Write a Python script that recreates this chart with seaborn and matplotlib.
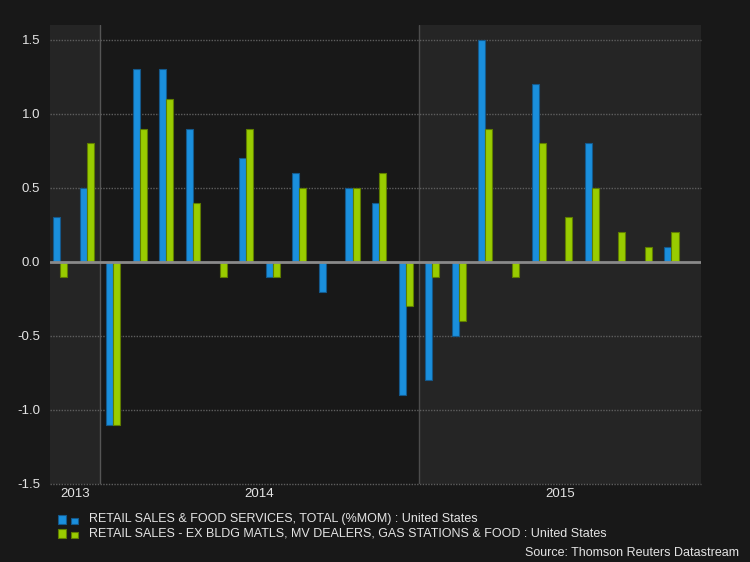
import matplotlib
matplotlib.use("Agg")
import matplotlib.pyplot as plt
import seaborn as sns
import pandas as pd
from matplotlib.patches import Rectangle

# ---------------- data ----------------
months = ["Nov 2013", "Dec 2013",
          "Jan 2014", "Feb 2014", "Mar 2014", "Apr 2014", "May 2014", "Jun 2014",
          "Jul 2014", "Aug 2014", "Sep 2014", "Oct 2014", "Nov 2014", "Dec 2014",
          "Jan 2015", "Feb 2015", "Mar 2015", "Apr 2015", "May 2015", "Jun 2015",
          "Jul 2015", "Aug 2015", "Sep 2015", "Oct 2015"]
retail_total = [0.3, 0.5,
                -1.1, 1.3, 1.3, 0.9, 0.0, 0.7, -0.1, 0.6, -0.2, 0.5, 0.4, -0.9,
                -0.8, -0.5, 1.5, 0.0, 1.2, 0.0, 0.8, 0.0, 0.0, 0.1]
retail_ex = [-0.1, 0.8,
             -1.1, 0.9, 1.1, 0.4, -0.1, 0.9, -0.1, 0.5, 0.0, 0.5, 0.6, -0.3,
             -0.1, -0.4, 0.9, -0.1, 0.8, 0.3, 0.5, 0.2, 0.1, 0.2]
series_names = ["RETAIL SALES & FOOD SERVICES, TOTAL (%MOM) : United States",
                "RETAIL SALES - EX BLDG MATLS, MV DEALERS, GAS STATIONS & FOOD : United States"]
year_labels = ["2013", "2014", "2015"]
ytick_values = [-1.5, -1.0, -0.5, 0.0, 0.5, 1.0, 1.5]
ytick_labels = ["-1.5", "-1.0", "-0.5", "0.0", "0.5", "1.0", "1.5"]
source_text = "Source: Thomson Reuters Datastream"

# ---------------- style ----------------
BG = "#181818"
SHADE = "#252525"
BLUE = "#1a8fdd"
GREEN = "#99cc00"
BLUE_EDGE = "#14598c"
GREEN_EDGE = "#5f7d00"
TXT = "#e4e4e4"
FONT = "Liberation Sans"

sns.set_theme(style="dark")
plt.rcParams["font.family"] = [FONT, "DejaVu Sans"]
plt.rcParams["axes.unicode_minus"] = False

W, H = 750, 562
fig = plt.figure(figsize=(W / 100, H / 100), dpi=100, facecolor=BG)
ax = fig.add_axes([50 / W, 1 - 484 / H, 651 / W, 459 / H])
ax.set_facecolor(BG)

df = pd.DataFrame({
    "month": months * 2,
    "value": retail_total + retail_ex,
    "series": [series_names[0]] * len(months) + [series_names[1]] * len(months),
})

sns.barplot(data=df, x="month", y="value", hue="series", order=months,
            hue_order=series_names, palette=[BLUE, GREEN], width=0.53,
            saturation=1, errorbar=None, legend=False, ax=ax, zorder=3)
for cont, ec in zip(ax.containers, [BLUE_EDGE, GREEN_EDGE]):
    for p in cont:
        p.set_edgecolor(ec)
        p.set_linewidth(0.8)

x0, x1 = -0.38, 24.11
y2014, y2015 = 1.5, 13.5
ax.set_xlim(x0, x1)
ax.set_ylim(-1.5, 1.6)

# year shading
ax.axvspan(x0, y2014, color=SHADE, zorder=0, lw=0)
ax.axvspan(y2015, x1, color=SHADE, zorder=0, lw=0)
ax.axvline(y2014, color="#555555", lw=1, zorder=1)
ax.axvline(y2015, color="#4c4c4c", lw=1, zorder=1)

# grid
for v in ytick_values:
    if v != 0:
        ax.axhline(v, color="#5e5e5e", lw=1, ls=(0, (1, 1)), zorder=1,
                   clip_on=False)
ax.axhline(0, color="#8a8a8a", lw=2, zorder=6)

ax.grid(False)
for s in ax.spines.values():
    s.set_visible(False)

ax.set_yticks(ytick_values)
ax.set_yticklabels(ytick_labels)
ax.set_xticks([(x0 + y2014) / 2, (y2014 + y2015) / 2, (y2015 + x1) / 2])
ax.set_xticklabels(year_labels)
ax.tick_params(axis="y", length=0, pad=7, labelsize=9.5, labelcolor=TXT)
ax.tick_params(axis="x", length=0, pad=3, labelsize=9.5, labelcolor=TXT)
ax.set_xlabel("")
ax.set_ylabel("")

# legend (manual)
rows_y = [519, 533]
for (yc, fc, ec, name) in zip(rows_y, [BLUE, GREEN], [BLUE_EDGE, GREEN_EDGE], series_names):
    fig.patches.append(Rectangle((58 / W, 1 - (yc + 5) / H), 8 / W, 9 / H,
                                 transform=fig.transFigure, facecolor=fc,
                                 edgecolor=ec, lw=0.8))
    fig.patches.append(Rectangle((71 / W, 1 - (yc + 5) / H), 7 / W, 6 / H,
                                 transform=fig.transFigure, facecolor=fc,
                                 edgecolor=ec, lw=0.8))
    fig.text(89 / W, 1 - yc / H, name, color=TXT, fontsize=9, va="center",
             ha="left")

fig.text(739 / W, 1 - 552.5 / H, source_text, color=TXT, fontsize=9,
         va="center", ha="right")

fig.savefig("out.png", dpi=100, facecolor=BG)
